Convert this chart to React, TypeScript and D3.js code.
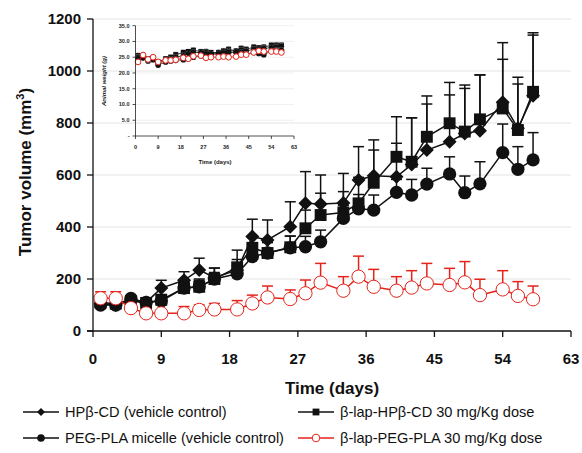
import React from "react";
import * as d3 from "d3";

// measurement days (main chart and inset share them)
const days = [1, 3, 5, 7, 9, 12, 14, 16, 19, 21, 23, 26, 28, 30, 33, 35, 37, 40, 42, 44, 47, 49, 51, 54, 56, 58];

// tumor volume (mm3) and + error
const hpcdVol = [105, 100, 120, 110, 165, 195, 235, 205, 235, 363, 350, 401, 491, 488, 492, 581, 597, 593, 640, 696, 728, 760, 770, 880, 780, 905];
const hpcdErr = [15, 10, 10, 10, 30, 33, 45, 37, 40, 67, 77, 96, 122, 112, 114, 128, 138, 129, 180, 177, 180, 173, 215, 229, 170, 233];
const lapHpcdVol = [110, 105, 115, 108, 120, 165, 170, 200, 245, 320, 300, 322, 395, 446, 456, 491, 570, 670, 651, 747, 799, 767, 814, 856, 773, 920];
const lapHpcdErr = [10, 10, 10, 10, 20, 25, 30, 42, 66, 40, 45, 43, 70, 84, 80, 100, 126, 154, 169, 157, 157, 179, 171, 189, 203, 227];
const micelleVol = [100, 100, 125, 110, 115, 165, 170, 200, 220, 286, 300, 320, 324, 343, 433, 470, 465, 533, 523, 565, 604, 532, 566, 686, 622, 658];
const micelleErr = [10, 10, 10, 10, 15, 20, 25, 25, 30, 35, 40, 45, 40, 45, 50, 55, 58, 50, 60, 61, 66, 64, 85, 110, 87, 105];
const lapPegVol = [126, 126, 88, 68, 68, 68, 81, 83, 83, 106, 129, 123, 145, 186, 155, 209, 170, 155, 167, 183, 177, 187, 138, 160, 135, 122];
const lapPegErr = [25, 25, 10, 8, 8, 26, 19, 23, 34, 32, 44, 35, 51, 74, 54, 79, 67, 54, 65, 77, 64, 80, 61, 72, 55, 51];

// inset: animal weight (g)
const hpcdWt = [25.0, 24.8, 24.0, 24.5, 23.0, 24.0, 24.5, 25.0, 25.5, 26.0, 26.5, 26.5, 26.5, 26.0, 26.5, 26.8, 27.0, 27.0, 27.3, 27.0, 27.5, 27.5, 27.8, 28.0, 28.2, 28.5];
const lapHpcdWt = [25.5, 25.0, 24.5, 24.8, 23.5, 24.5, 25.0, 25.8, 26.5, 26.8, 27.2, 26.8, 26.8, 26.5, 26.5, 27.0, 27.5, 27.0, 27.8, 27.5, 28.2, 28.0, 28.2, 28.8, 28.8, 28.8];
const micelleWt = [24.5, 24.8, 23.8, 24.2, 22.5, 23.5, 23.8, 24.0, 24.2, 24.5, 25.0, 25.5, 25.8, 26.0, 26.0, 26.3, 26.5, 26.5, 26.5, 26.0, 26.5, 26.2, 25.8, 27.0, 27.2, 27.2];
const lapPegWt = [23.5, 25.7, 24.3, 25.0, 23.5, 24.0, 24.0, 24.2, 24.8, 24.5, 25.3, 25.5, 24.8, 25.0, 25.0, 25.2, 25.0, 25.2, 25.8, 25.8, 26.5, 27.0, 26.8, 26.8, 26.8, 26.5];
const wtErr = [0.8, 0.8, 0.7, 0.7, 0.8, 0.7, 0.7, 0.8, 0.8, 0.7, 0.8, 0.7, 0.8, 0.7, 0.7, 0.8, 0.8, 0.7, 0.8, 0.8, 0.8, 0.7, 0.8, 0.8, 0.9, 0.8];

const xTicks = [0, 9, 18, 27, 36, 45, 54, 63];
const yTicks = [0, 200, 400, 600, 800, 1000, 1200];
const wtTicks = [0, 5, 10, 15, 20, 25, 30, 35];

const legendLabels = [
  "HPβ-CD (vehicle control)",
  "β-lap-HPβ-CD 30 mg/Kg dose",
  "PEG-PLA micelle (vehicle control)",
  "β-lap-PEG-PLA 30 mg/Kg dose",
];

const RED = "#e5231b";
const FONT = "Arial, 'Liberation Sans', sans-serif";

type Kind = "diamond" | "square" | "circle" | "open";

function Marker({ kind, x, y, s }: { kind: Kind; x: number; y: number; s: number }) {
  if (kind === "diamond")
    return <path d={`M${x},${y - s}L${x + s},${y}L${x},${y + s}L${x - s},${y}Z`} fill="#111" />;
  if (kind === "square")
    return <rect x={x - s * 0.85} y={y - s * 0.85} width={s * 1.7} height={s * 1.7} fill="#111" />;
  if (kind === "circle") return <circle cx={x} cy={y} r={s * 0.95} fill="#111" />;
  return <circle cx={x} cy={y} r={s * 0.95} fill="#fff" stroke={RED} strokeWidth={1} />;
}

export default function App() {
  const x = d3.scaleLinear().domain([0, 63]).range([93, 571]);
  const y = d3.scaleLinear().domain([0, 1200]).range([331, 19]);

  const ix = d3.scaleLinear().domain([0, 63]).range([135.5, 294]);
  const iy = d3.scaleLinear().domain([0, 35]).range([136, 25.7]);

  const series = [
    { kind: "square" as Kind, vals: lapHpcdVol, err: lapHpcdErr, wt: lapHpcdWt, color: "#111" },
    { kind: "diamond" as Kind, vals: hpcdVol, err: hpcdErr, wt: hpcdWt, color: "#111" },
    { kind: "circle" as Kind, vals: micelleVol, err: micelleErr, wt: micelleWt, color: "#111" },
    { kind: "open" as Kind, vals: lapPegVol, err: lapPegErr, wt: lapPegWt, color: RED },
  ];

  const line = (xs: d3.ScaleLinear<number, number>, ys: d3.ScaleLinear<number, number>, vals: number[]) =>
    d3.line<number>().x((_, i) => xs(days[i])).y((v) => ys(v))(vals) || "";

  const legendItems: { kind: Kind; color: string }[] = [
    { kind: "diamond", color: "#111" },
    { kind: "square", color: "#111" },
    { kind: "circle", color: "#111" },
    { kind: "open", color: RED },
  ];

  return (
    <svg width={582} height={453} style={{ display: "block", background: "#fff" }} fontFamily={FONT}>
      <style>{`body{margin:0}`}</style>

      {/* grid */}
      {yTicks.slice(1).map((t) => (
        <line key={t} x1={x(0)} x2={x(63)} y1={y(t)} y2={y(t)} stroke="#e4e4e4" strokeWidth={1} />
      ))}

      {/* series: error bars, lines, markers */}
      {series.map((s, k) => (
        <g key={k}>
          {s.vals.map((v, i) => (
            <g key={i} stroke={s.color} strokeWidth={1.5}>
              <line x1={x(days[i])} x2={x(days[i])} y1={y(v)} y2={y(v + s.err[i])} />
              <line x1={x(days[i]) - 5.5} x2={x(days[i]) + 5.5} y1={y(v + s.err[i])} y2={y(v + s.err[i])} />
            </g>
          ))}
          <path d={line(x, y, s.vals)} fill="none" stroke={s.color} strokeWidth={1.5} />
          {s.vals.map((v, i) => (
            <Marker key={i} kind={s.kind} x={x(days[i])} y={y(v)} s={7} />
          ))}
        </g>
      ))}

      {/* axes */}
      <g stroke="#111" strokeWidth={1.3}>
        <line x1={x(0)} x2={x(0)} y1={y(1200)} y2={y(0)} />
        <line x1={x(0) - 6} x2={x(63)} y1={y(0)} y2={y(0)} />
        {yTicks.map((t) => (
          <line key={t} x1={x(0) - 6} x2={x(0)} y1={y(t)} y2={y(t)} />
        ))}
        {xTicks.map((t) => (
          <line key={t} x1={x(t)} x2={x(t)} y1={y(0)} y2={y(0) + 6} />
        ))}
      </g>
      {yTicks.map((t) => (
        <text key={t} x={x(0) - 12} y={y(t)} dy="0.35em" textAnchor="end" fontSize={15} fontWeight="bold" fill="#111">
          {t}
        </text>
      ))}
      {xTicks.map((t) => (
        <text key={t} x={x(t)} y={364} textAnchor="middle" fontSize={15} fontWeight="bold" fill="#111">
          {t}
        </text>
      ))}
      <text x={332} y={394} textAnchor="middle" fontSize={17} fontWeight="bold" fill="#111">
        Time (days)
      </text>
      <text transform="translate(31,172) rotate(-90)" textAnchor="middle" fontSize={17} fontWeight="bold" fill="#111">
        Tumor volume (mm<tspan dy={-7} fontSize={11}>3</tspan>
        <tspan dy={7}>)</tspan>
      </text>

      {/* inset */}
      <g>
        {wtTicks.slice(1).map((t) => (
          <line key={t} x1={ix(0)} x2={ix(63)} y1={iy(t)} y2={iy(t)} stroke="#ececec" strokeWidth={0.8} />
        ))}
        {series.map((s, k) => (
          <g key={k}>
            {s.wt.map((v, i) => (
              <g key={i} stroke={k === 3 ? "#f08a84" : "#777"} strokeWidth={0.7}>
                <line x1={ix(days[i])} x2={ix(days[i])} y1={iy(v)} y2={iy(v + wtErr[i])} />
                <line x1={ix(days[i]) - 2} x2={ix(days[i]) + 2} y1={iy(v + wtErr[i])} y2={iy(v + wtErr[i])} />
              </g>
            ))}
            <path d={line(ix, iy, s.wt)} fill="none" stroke={s.color} strokeWidth={0.8} />
            {s.wt.map((v, i) => (
              <Marker key={i} kind={s.kind} x={ix(days[i])} y={iy(v)} s={3} />
            ))}
          </g>
        ))}
        <g stroke="#222" strokeWidth={0.8}>
          <line x1={ix(0)} x2={ix(0)} y1={iy(35)} y2={iy(0)} />
          <line x1={ix(0)} x2={ix(63)} y1={iy(0)} y2={iy(0)} />
          {wtTicks.map((t) => (
            <line key={t} x1={ix(0) - 3} x2={ix(0)} y1={iy(t)} y2={iy(t)} />
          ))}
          {xTicks.map((t) => (
            <line key={t} x1={ix(t)} x2={ix(t)} y1={iy(0)} y2={iy(0) + 3} />
          ))}
        </g>
        {wtTicks.map((t) => (
          <text key={t} x={ix(0) - 6} y={iy(t)} dy="0.35em" textAnchor="end" fontSize={5.5} fontWeight="bold" fill="#222">
            {t === 0 ? "-" : d3.format(".1f")(t)}
          </text>
        ))}
        {xTicks.map((t) => (
          <text key={t} x={ix(t)} y={149} textAnchor="middle" fontSize={5.5} fontWeight="bold" fill="#222">
            {t}
          </text>
        ))}
        <text x={215} y={164} textAnchor="middle" fontSize={6} fontWeight="bold" fill="#222">
          Time (days)
        </text>
        <text transform="translate(106,81) rotate(-90)" textAnchor="middle" fontSize={6} fontWeight="bold" fontStyle="italic" fill="#222">
          Animal weight (g)
        </text>
      </g>

      {/* legend */}
      {legendItems.map((it, i) => {
        const col = i % 2;
        const row = Math.floor(i / 2);
        const lx = col === 0 ? 23 : 298;
        const ly = 412 + row * 26;
        return (
          <g key={i}>
            <line x1={lx} x2={lx + 36} y1={ly} y2={ly} stroke={it.color} strokeWidth={1.5} />
            <Marker kind={it.kind} x={lx + 18} y={ly} s={4} />
            <text x={lx + 42} y={ly} dy="0.35em" fontSize={14.6} fill="#111">
              {legendLabels[i]}
            </text>
          </g>
        );
      })}
    </svg>
  );
}
